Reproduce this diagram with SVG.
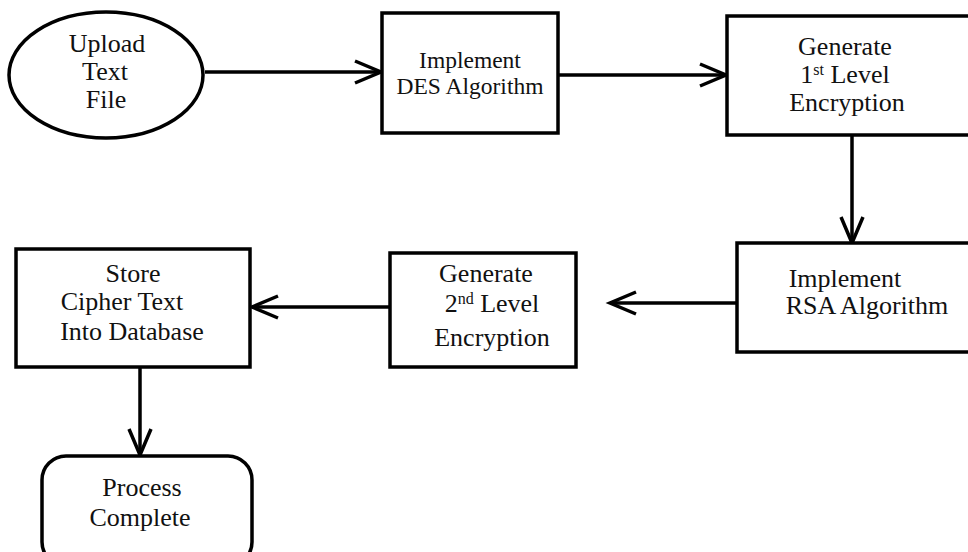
<svg xmlns="http://www.w3.org/2000/svg" width="968" height="552" viewBox="0 0 968 552">
<defs>
<style>
.n{fill:#fff;stroke:#000;stroke-width:3.5}
.t{font-family:'Liberation Serif','Times New Roman','DejaVu Serif',serif;font-size:26px;fill:#111;text-anchor:middle}
.s{font-size:23.5px}
.c{fill:none;stroke:#000;stroke-width:3.5}
.h{fill:none;stroke:#000;stroke-width:3.5;stroke-linejoin:miter}
</style>
</defs>
<rect width="968" height="552" fill="#fff"/>
<g id="connectors">
<line class="c" x1="205" y1="72" x2="381" y2="72"/>
<polyline class="h" points="355,61 381,72 355,83"/>
<line class="c" x1="558" y1="75" x2="726" y2="75"/>
<polyline class="h" points="700,64 726,75 700,86"/>
<line class="c" x1="852" y1="135" x2="852" y2="243"/>
<polyline class="h" points="841,217 852,243 863,217"/>
<line class="c" x1="737" y1="303" x2="610" y2="303"/>
<polyline class="h" points="636,292 610,303 636,314"/>
<line class="c" x1="390" y1="307" x2="252" y2="307"/>
<polyline class="h" points="278,296 252,307 278,318"/>
<line class="c" x1="140" y1="367" x2="140" y2="455"/>
<polyline class="h" points="129,429 140,455 151,429"/>
</g>
<g id="upload">
<ellipse class="n" cx="106" cy="75" rx="97" ry="63"/>
<text class="t" x="107" y="52">Upload</text>
<text class="t" x="105" y="80">Text</text>
<text class="t" x="106" y="108">File</text>
</g>
<g id="des">
<rect class="n" x="382" y="13" width="176" height="120"/>
<text class="t s" x="470" y="68">Implement</text>
<text class="t s" x="470" y="94">DES Algorithm</text>
</g>
<g id="gen1">
<rect class="n" x="727" y="16" width="245" height="119"/>
<text class="t" x="845" y="55">Generate</text>
<text class="t" x="845" y="83">1<tspan font-size="16" dy="-8">st</tspan><tspan dy="8"> Level</tspan></text>
<text class="t" x="847" y="111">Encryption</text>
</g>
<g id="rsa">
<rect class="n" x="737" y="243" width="235" height="109"/>
<text class="t" x="845" y="287">Implement</text>
<text class="t" x="867" y="314">RSA Algorithm</text>
</g>
<g id="gen2">
<rect class="n" x="390" y="253" width="186" height="114"/>
<text class="t" x="486" y="282">Generate</text>
<text class="t" x="492" y="312">2<tspan font-size="16" dy="-8">nd</tspan><tspan dy="8"> Level</tspan></text>
<text class="t" x="492" y="346">Encryption</text>
</g>
<g id="store">
<rect class="n" x="16" y="249" width="234" height="118"/>
<text class="t" x="133" y="282">Store</text>
<text class="t" x="122" y="310">Cipher Text</text>
<text class="t" x="132" y="340">Into Database</text>
</g>
<g id="process">
<rect class="n" x="42" y="456" width="210" height="110" rx="24" ry="24"/>
<text class="t" x="142" y="496">Process</text>
<text class="t" x="140" y="526">Complete</text>
</g>
</svg>
